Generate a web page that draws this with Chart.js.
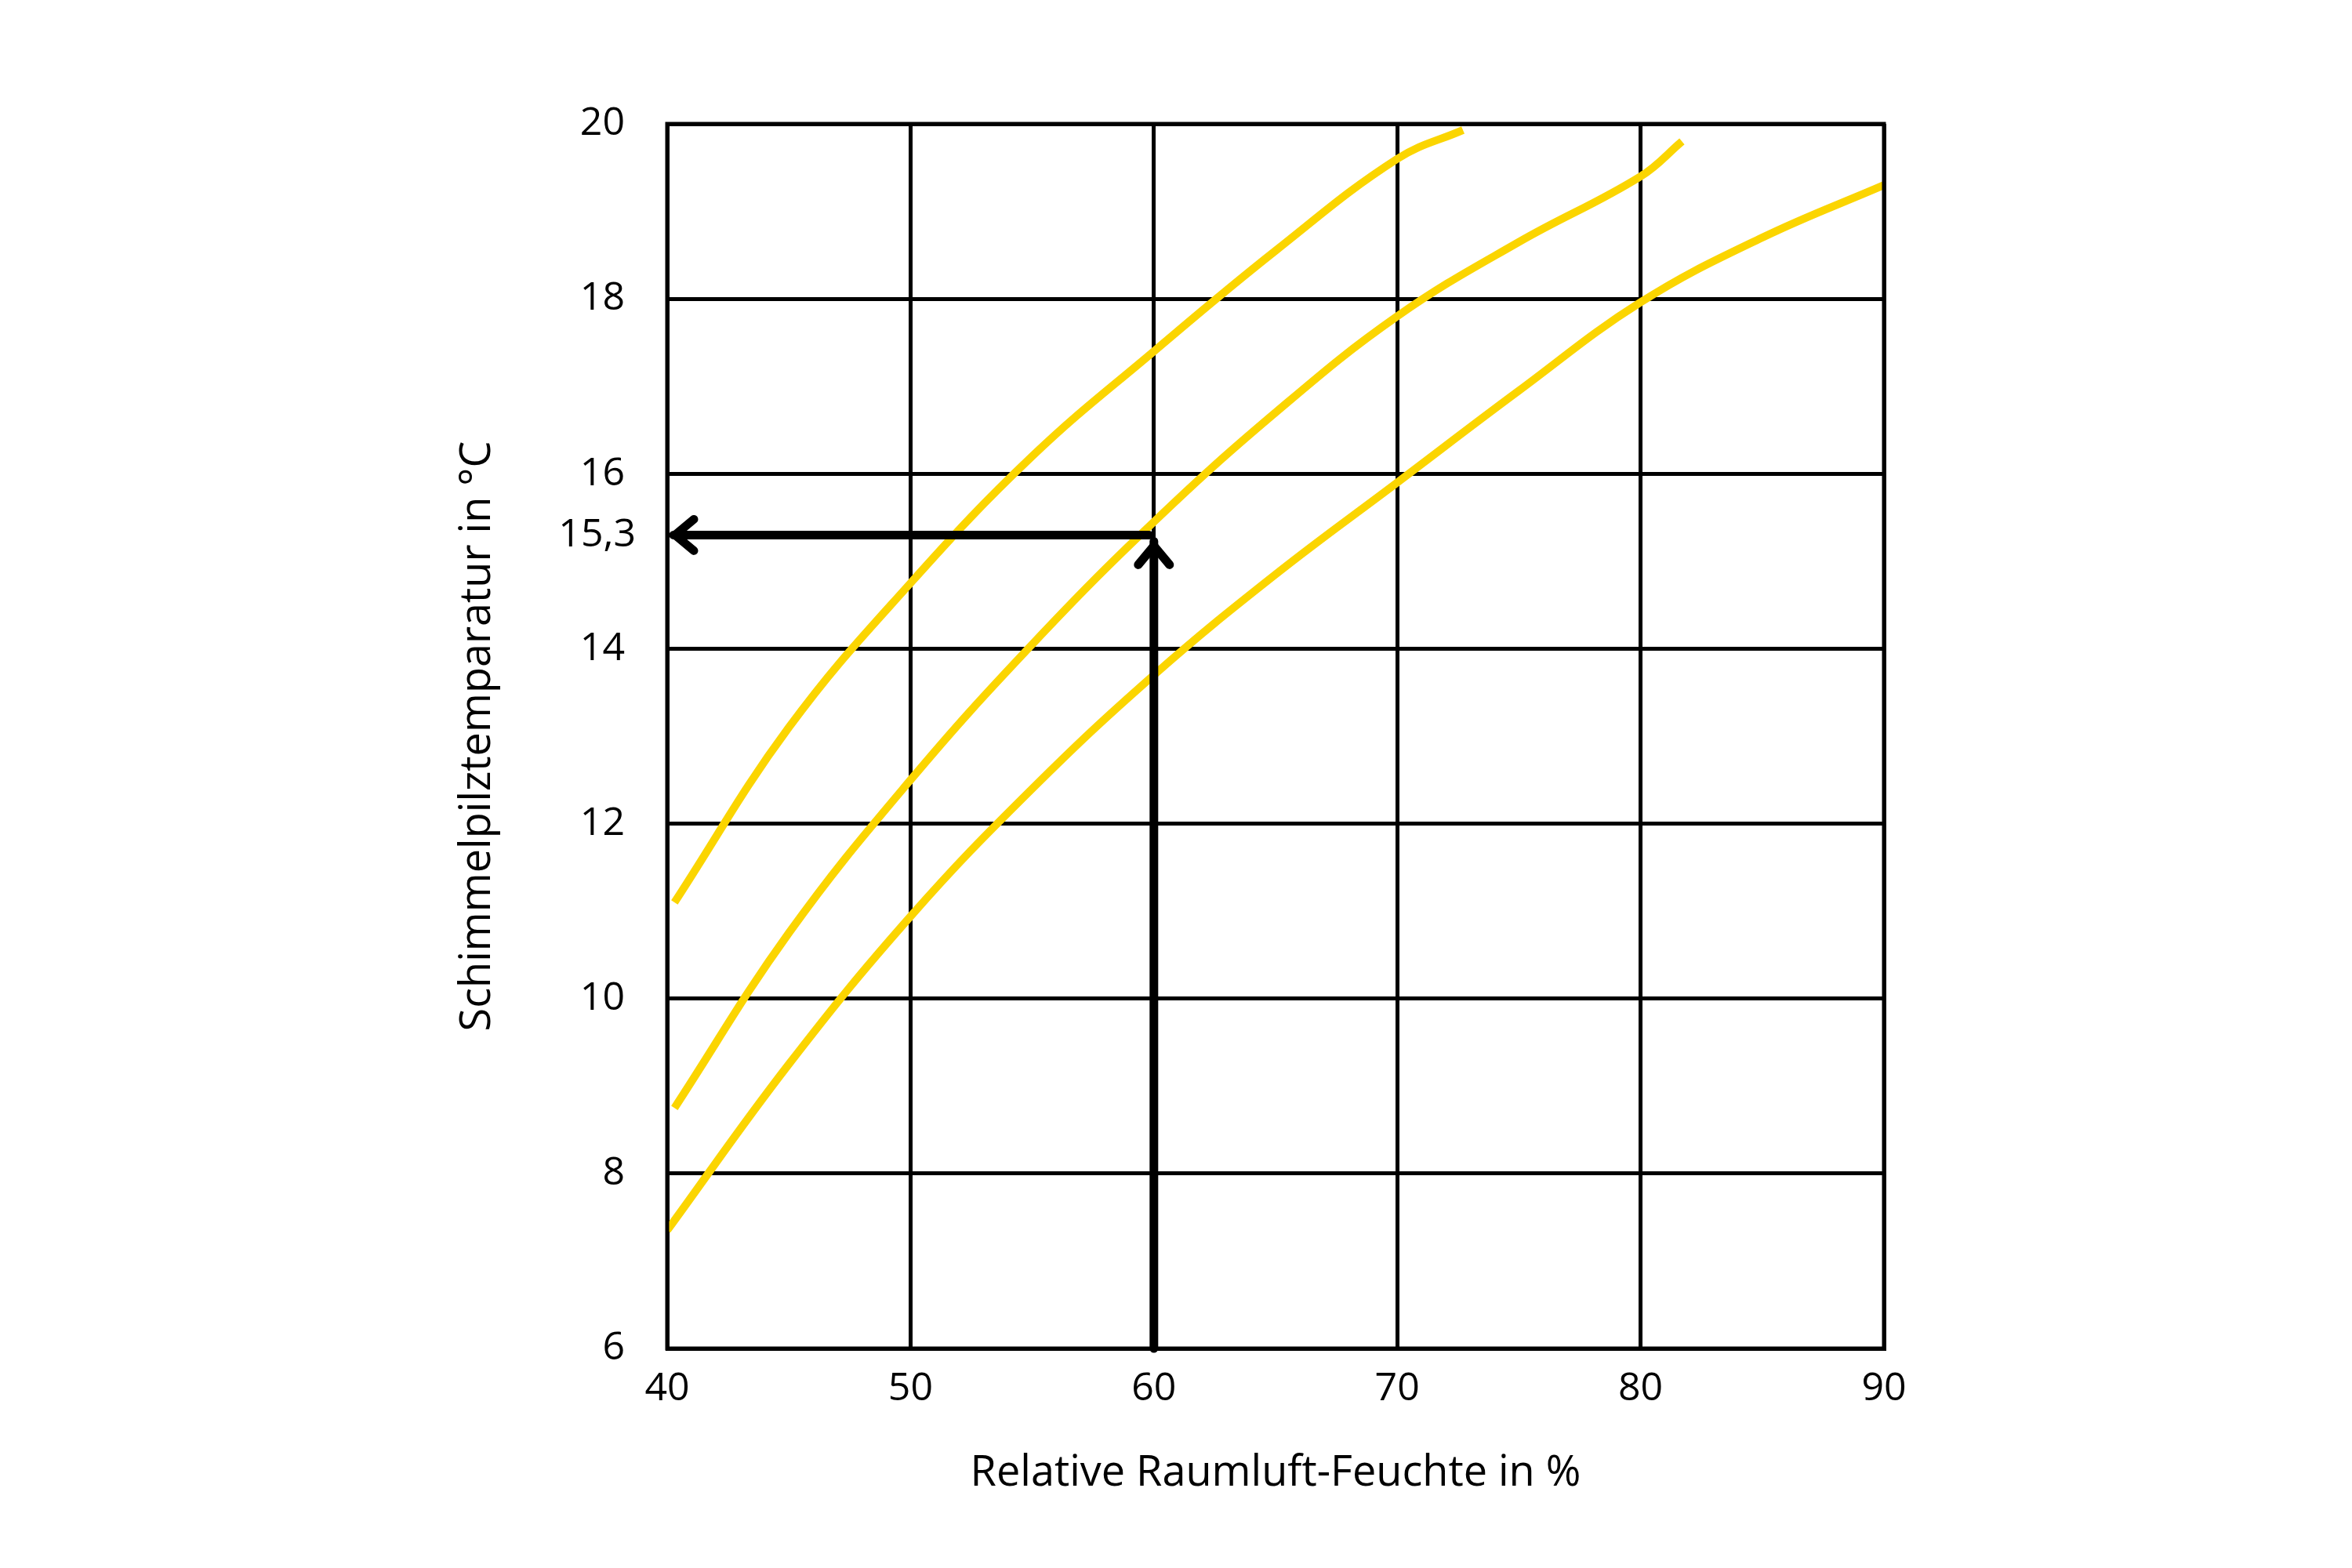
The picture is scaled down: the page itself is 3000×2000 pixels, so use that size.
<!DOCTYPE html>
<html><head><meta charset="utf-8">
<script src="https://cdn.jsdelivr.net/npm/chart.js@4"></script>
<style>html,body{margin:0;padding:0;background:#fff}canvas{display:block}</style>
</head><body>
<div style="width:3000px;height:2000px"><canvas id="c" width="3000" height="2000"></canvas></div>
<script>
const curve1 = [[40.3,11.1],[45,13.1],[50,14.75],[55,16.2],[60,17.4],[65,18.55],[70,19.6],[72.7,19.93]];
const curve2 = [[40.3,8.75],[45,10.75],[50,12.5],[55,14.05],[60,15.45],[65,16.7],[70,17.8],[75,18.65],[80,19.4],[81.7,19.8]];
const curve3 = [[40,7.35],[45,9.25],[50,10.94],[55,12.4],[60,13.7],[65,14.85],[70,15.9],[75,16.95],[80,17.96],[85,18.7],[90,19.3]];
const xTicks = [40,50,60,70,80,90];
const yTicks = [6,8,10,12,14,16,18,20];
const markX = 60, markY = 15.3, markLabel = '15,3';
const xTitle = 'Relative Raumluft-Feuchte in %';
const yTitle = 'Schimmelpilztemparatur in °C';
const FONT = '"Open Sans", sans-serif';
const YEL = '#fbd500';
const toPts = a => a.map(p => ({x:p[0], y:p[1]}));
const ds = [curve1,curve2,curve3].map(c => ({data:toPts(c), borderColor:YEL, borderWidth:10, pointRadius:0, tension:0.4, fill:false}));
const overlay = {
  id:'overlay',
  afterDatasetsDraw(ch){
    const c = ch.ctx, xs = ch.scales.x, ys = ch.scales.y;
    const px = xs.getPixelForValue(markX), py = ys.getPixelForValue(markY);
    const x0 = xs.getPixelForValue(40), y0 = ys.getPixelForValue(6);
    c.save();
    c.strokeStyle = '#000'; c.lineWidth = 11; c.lineCap = 'round'; c.lineJoin='round';
    c.beginPath(); c.moveTo(px, y0); c.lineTo(px, py+8); c.stroke();
    c.beginPath(); c.moveTo(px-20, py+38); c.lineTo(px, py+14); c.lineTo(px+20, py+38); c.stroke();
    c.beginPath(); c.moveTo(px-6, py); c.lineTo(x0+8, py); c.stroke();
    c.beginPath(); c.moveTo(x0+34, py-20); c.lineTo(x0+10, py); c.lineTo(x0+34, py+20); c.stroke();
    c.fillStyle = '#000'; c.font = '50px '+FONT; c.textAlign='right'; c.textBaseline='middle';
    c.fillText(markLabel, x0-40, py);
    c.textAlign='center';
    c.font = '54px '+FONT;
    c.fillText(xTitle, (xs.left+xs.right)/2, 1880);
    c.translate(610, (ys.top+ys.bottom)/2); c.rotate(-Math.PI/2);
    c.fillText(yTitle, 0, 0);
    c.restore();
  }
};
new Chart(document.getElementById('c'), {
  type:'line',
  data:{datasets:ds},
  options:{
    responsive:false, devicePixelRatio:1, animation:false,
    layout:{padding:{top:158,right:597,left:0,bottom:0}},
    plugins:{legend:{display:false}, tooltip:{enabled:false}},
    scales:{
      x:{type:'linear', min:40, max:90,
        afterBuildTicks:s=>{s.ticks = xTicks.map(v=>({value:v}));},
        afterFit:s=>{s.height = 280;},
        grid:{color:'#000', lineWidth:5, drawTicks:false},
        border:{color:'#000', width:5},
        ticks:{color:'#000', font:{size:50, family:FONT}, padding:22}},
      y:{type:'linear', min:6, max:20,
        afterBuildTicks:s=>{s.ticks = yTicks.map(v=>({value:v}));},
        afterFit:s=>{s.width = 851;},
        grid:{color:'#000', lineWidth:5, drawTicks:false},
        border:{color:'#000', width:5},
        ticks:{color:'#000', font:{size:50, family:FONT}, padding:54}}
    }
  },
  plugins:[overlay, {id:'rb', afterDraw(ch){const c=ch.ctx,a=ch.chartArea;c.save();c.strokeStyle='#000';c.lineWidth=5;c.strokeRect(a.left,a.top,a.right-a.left,a.bottom-a.top);c.restore();}}]
});
</script>
</body></html>
